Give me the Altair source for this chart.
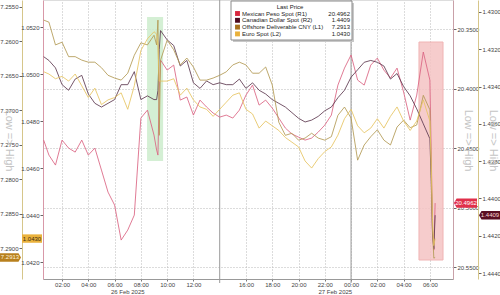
import altair as alt
import pandas as pd

# ---------------- data (hours since 26 Feb 2025 00:00) ----------------
TIMES = [0.6, 1.0, 1.5, 2.0, 2.5, 3.0, 3.5, 4.0, 4.5, 5.0, 5.5, 6.0, 6.5, 7.0, 7.5, 8.0, 8.5, 9.0,
         9.2, 9.3, 9.4,
         9.5, 10.0, 10.5, 11.0, 11.5, 12.0, 12.5, 13.0, 13.5, 14.0,
         14.5, 15.0, 15.5, 16.0, 16.5, 17.0, 17.5, 18.0, 18.5, 19.0,
         19.5, 20.0, 20.5, 21.0, 21.5, 22.0, 22.5, 23.0, 23.5, 24.0,
         24.5, 25.0, 25.5, 26.0, 26.5, 27.0, 27.5, 28.0, 28.5, 29.0,
         29.5, 30.0,
         30.1, 30.2, 30.3, 30.4]

MXN = [20.4433, 20.4559, 20.4643, 20.4433, 20.4500, 20.4534, 20.4433, 20.4559, 20.4500, 20.4685,
       20.4870, 20.4979, 20.5273, 20.5189, 20.5063, 20.4248, 20.4181, 20.4391,
       20.4517, 20.4559, 20.4013,
       20.3761, 20.3845, 20.3803, 20.4097, 20.4071, 20.4223, 20.4097, 20.4155, 20.4206, 20.4240,
       20.4223, 20.4248, 20.4181, 20.4055, 20.3971, 20.4139, 20.4097, 20.4164, 20.4248, 20.4332,
       20.4382, 20.4408, 20.4433, 20.4416, 20.4366, 20.4307, 20.4223, 20.3971, 20.3828, 20.3718,
       20.3929, 20.3971, 20.3803, 20.3744, 20.3845, 20.3912, 20.3828, 20.4029, 20.4265, 20.4055,
       20.3693, 20.3929,
       20.4517, 20.5189, 20.5357, 20.4962]

CAD = [1.4324, 1.4326, 1.4330, 1.4339, 1.4342, 1.4336, 1.4334, 1.4344, 1.4349, 1.4351,
       1.4349, 1.4347, 1.4339, 1.4339, 1.4332, 1.4347, 1.4345, 1.4347,
       1.4347, 1.4342, 1.4320,
       1.4310, 1.4315, 1.4318, 1.4329, 1.4326, 1.4338, 1.4341, 1.4337, 1.4339, 1.4338,
       1.4339, 1.4339, 1.4336, 1.4341, 1.4338, 1.4342, 1.4344, 1.4347, 1.4349, 1.4351,
       1.4354, 1.4357, 1.4359, 1.4358, 1.4356, 1.4353, 1.4351, 1.4346, 1.4342, 1.4335,
       1.4331, 1.4327, 1.4326, 1.4327, 1.4329, 1.4336, 1.4333, 1.4340, 1.4345, 1.4352,
       1.4360, 1.4368,
       1.4390, 1.4419, 1.4427, 1.4409]

CNY = [7.2569, 7.2572, 7.2605, 7.2601, 7.2622, 7.2622, 7.2627, 7.2630, 7.2630, 7.2638,
       7.2649, 7.2653, 7.2656, 7.2646, 7.2620, 7.2602, 7.2605, 7.2591,
       7.2605, 7.2569, 7.2736,
       7.2627, 7.2598, 7.2612, 7.2634, 7.2624, 7.2637, 7.2656, 7.2656, 7.2653, 7.2649,
       7.2644, 7.2634, 7.2630, 7.2634, 7.2646, 7.2646, 7.2637, 7.2663, 7.2717, 7.2736,
       7.2733, 7.2743, 7.2740, 7.2733, 7.2740, 7.2743, 7.2738, 7.2707, 7.2695, 7.2711,
       7.2772, 7.2750, 7.2738, 7.2728, 7.2743, 7.2750, 7.2724, 7.2714, 7.2725, 7.2721,
       7.2678, 7.2699,
       7.2786, 7.2873, 7.2914, 7.2913]

EUR = [1.0501, 1.0500, 1.0498, 1.0499, 1.0497, 1.0500, 1.0495, 1.0490, 1.0494, 1.0487,
       1.0489, 1.0490, 1.0492, 1.0485, 1.0495, 1.0510, 1.0515, 1.0518,
       1.0517, 1.0512, 1.0497,
       1.0497, 1.0497, 1.0498, 1.0491, 1.0494, 1.0489, 1.0486, 1.0485, 1.0482, 1.0485,
       1.0488, 1.0491, 1.0492, 1.0485, 1.0483, 1.0477, 1.0480, 1.0478, 1.0476, 1.0473,
       1.0471, 1.0469, 1.0463, 1.0460, 1.0464, 1.0467, 1.0469, 1.0474, 1.0481, 1.0485,
       1.0478, 1.0475, 1.0477, 1.0481, 1.0477, 1.0482, 1.0486, 1.0480, 1.0476, 1.0480,
       1.0489, 1.0480,
       1.0463, 1.0438, 1.0427, 1.0430]

NAMES = ["Mexican Peso Spot  (R1)", "Canadian Dollar Spot  (R2)",
         "Offshore Deliverable CNY  (L1)", "Euro Spot  (L2)"]
LAST = ["20.4962", "1.4409", "7.2913", "1.0430"]
LEGEND_COLORS = ["#d7263d", "#4d0a1e", "#a8701c", "#e9b13b"]

X_TICKS = [2, 4, 6, 8, 10, 12, 16, 18, 20, 22, 24, 26, 28, 30]
SEPARATORS = [14, 24]
DATE_LABELS = ["26 Feb 2025", "27 Feb 2025"]
DATE_POS = [7.0, 22.8]
GREEN_SPAN = [8.47, 9.69]
RED_SPAN = [29.17, 31.0]

MXN_TICKS = [20.35, 20.40, 20.45, 20.50, 20.55]
CAD_TICKS = [1.430, 1.432, 1.434, 1.436, 1.438, 1.440, 1.442, 1.444]
CNY_TICKS = [7.255, 7.260, 7.265, 7.270, 7.275, 7.280, 7.285, 7.290]
EUR_TICKS = [1.042, 1.044, 1.046, 1.048, 1.050, 1.052]

FONT = "Liberation Sans"
W, H = 410, 279

xscale = alt.Scale(domain=[0.55, 31.76], nice=False, zero=False)
xaxis = alt.Axis(values=X_TICKS, labelOverlap=False,
                 labelExpr="(datum.value % 24 < 10 ? '0' : '') + (datum.value % 24) + ':00'",
                 grid=True, gridDash=[1, 2], gridColor="#b8b8b8", tickSize=2, tickColor="#777",
                 domainColor="#999", labelFontSize=6, labelColor="#444", labelPadding=0,
                 labelFont=FONT)


def X(field):
    return alt.X(field, scale=xscale, axis=xaxis, title=None)


def yaxis(orient, offset, values, domain_color, title, grid=False, title_x=0):
    kw = dict(orient=orient, offset=offset, values=values, format=".4f", grid=grid,
              domainColor=domain_color, tickColor="#666", tickSize=3,
              labelFontSize=6, labelColor="#444", labelPadding=1, labelFont=FONT,
              labelOverlap=False, labelFlush=False)
    if grid:
        kw.update(gridDash=[1, 2], gridColor="#b8b8b8")
    if title:
        kw.update(title=title, titleAngle=90, titleX=title_x, titleY=140, titleFontSize=11,
                  titleColor="#c4c4c4", titleFontWeight="normal", titleAlign="center",
                  titleBaseline="middle", titleFont=FONT)
    else:
        kw.update(title="")
    return alt.Axis(**kw)


def series(values, last, line_color, scale, axis, bx, shape, bsize, bcolor, tcolor):
    df = pd.DataFrame({"t": TIMES, "v": values})
    y = alt.Y("v:Q", scale=scale, axis=axis)
    line = alt.Chart(df).mark_line(color=line_color, strokeWidth=1, opacity=0.85).encode(
        x=X("t:Q"), y=y)
    bdf = pd.DataFrame({"v": [values[-1]], "label": [last]})
    badge = alt.Chart(bdf).mark_point(shape=shape, filled=True, size=bsize, color=bcolor,
                                      opacity=1).encode(x=alt.value(bx), y=y)
    txt = alt.Chart(bdf).mark_text(fontSize=6, font=FONT, color=tcolor, align="center",
                                   baseline="middle").encode(
        x=alt.value(bx), y=y, text="label:N")
    return alt.layer(line, badge, txt)


ARROW_L = "M-1.1,0 L-0.85,-0.42 L1,-0.42 L1,0.42 L-0.85,0.42 Z"
ARROW_R = "M-1,-0.42 L0.85,-0.42 L1.1,0 L0.85,0.42 L-1,0.42 Z"
BOX = "M-1,-0.42 L1,-0.42 L1,0.42 L-1,0.42 Z"

mxn = series(MXN, LAST[0], "#da6482",
             alt.Scale(domain=[20.3256, 20.560], reverse=True, nice=False, zero=False),
             yaxis("right", 0, MXN_TICKS, "#c9a0a8", "Low => High", grid=True, title_x=14),
             423, ARROW_L, 484, "#e0304a", "white")
cad = series(CAD, LAST[1], "#5e3a50",
             alt.Scale(domain=[1.42936, 1.44432], reverse=True, nice=False, zero=False),
             yaxis("right", 25, CAD_TICKS, "#d6c68a", "Low => High", title_x=14),
             447, ARROW_L, 400, "#5a0f22", "#f6d6d6")
cny = series(CNY, LAST[2], "#b39a55",
             alt.Scale(domain=[7.25399, 7.29442], reverse=True, nice=False, zero=False),
             yaxis("left", 21, CNY_TICKS, "#d6c68a", "Low => High", title_x=-14),
             -33, ARROW_R, 400, "#b8801e", "#fff4dc")
eur = series(EUR, LAST[3], "#e6c462",
             alt.Scale(domain=[1.04128, 1.05315], nice=False, zero=False),
             yaxis("left", 0, EUR_TICKS, "#d898a8", None),
             -11, BOX, 400, "#eab23c", "#3a2a10")

green = alt.Chart(pd.DataFrame({"a": [GREEN_SPAN[0]], "b": [GREEN_SPAN[1]]})).mark_rect(
    color="#cdeccd", opacity=0.85).encode(x=X("a:Q"), x2="b:Q", y=alt.value(17), y2=alt.value(161))
red = alt.Chart(pd.DataFrame({"a": [RED_SPAN[0]], "b": [RED_SPAN[1]]})).mark_rect(
    color="#f5c4c4", opacity=0.85, stroke="#eea8a8", strokeWidth=1).encode(
    x=X("a:Q"), x2="b:Q", y=alt.value(42), y2=alt.value(260))

seps = alt.Chart(pd.DataFrame({"t": SEPARATORS})).mark_rule(color="#9a9a9a", strokeWidth=1).encode(
    x=X("t:Q"), y=alt.value(0), y2=alt.value(283))

dates = alt.Chart(pd.DataFrame({"t": DATE_POS, "label": DATE_LABELS})).mark_text(
    fontSize=6, font=FONT, color="#444", baseline="middle").encode(
    x=X("t:Q"), y=alt.value(291.5), text="label:N")

# legend box
one = pd.DataFrame({"a": [0]})
shadow = alt.Chart(one).mark_rect(color="#c8c8c8").encode(
    x=alt.value(190), x2=alt.value(311), y=alt.value(3), y2=alt.value(42))
box = alt.Chart(one).mark_rect(fill="white", stroke="#8a8a8a", strokeWidth=1).encode(
    x=alt.value(188), x2=alt.value(309), y=alt.value(1), y2=alt.value(40))
header = alt.Chart(one).mark_text(text="Last Price", fontSize=6, font=FONT, color="#222",
                                  baseline="middle").encode(x=alt.value(247), y=alt.value(7))
leg_df = pd.DataFrame({"name": NAMES, "last": LAST, "color": LEGEND_COLORS, "row": [0, 1, 2, 3]})
leg_base = alt.Chart(leg_df).transform_calculate(ypx="13.5 + datum.row * 6.8")
swatch = leg_base.mark_square(size=24, opacity=1).encode(
    x=alt.value(194.5), y=alt.Y("ypx:Q", scale=None, axis=None),
    color=alt.Color("color:N", scale=None, legend=None))
names = leg_base.mark_text(align="left", baseline="middle", fontSize=6, font=FONT,
                           color="#222").encode(
    x=alt.value(199), y=alt.Y("ypx:Q", scale=None, axis=None), text="name:N")
lasts = leg_base.mark_text(align="right", baseline="middle", fontSize=6, font=FONT,
                           color="#222").encode(
    x=alt.value(307), y=alt.Y("ypx:Q", scale=None, axis=None), text="last:N")

chart = alt.layer(
    green, red, seps, dates, mxn, cad, cny, eur, shadow, box, header, swatch, names, lasts
).resolve_scale(y="independent").properties(
    width=W, height=H,
    autosize=alt.AutoSizeParams(type="none"),
    padding={"left": 43, "top": 0, "right": 47, "bottom": 16},
    background="white",
).configure_view(strokeWidth=0).configure(font=FONT)

chart.save("out.html", embed_options={"renderer": "svg", "actions": False})
